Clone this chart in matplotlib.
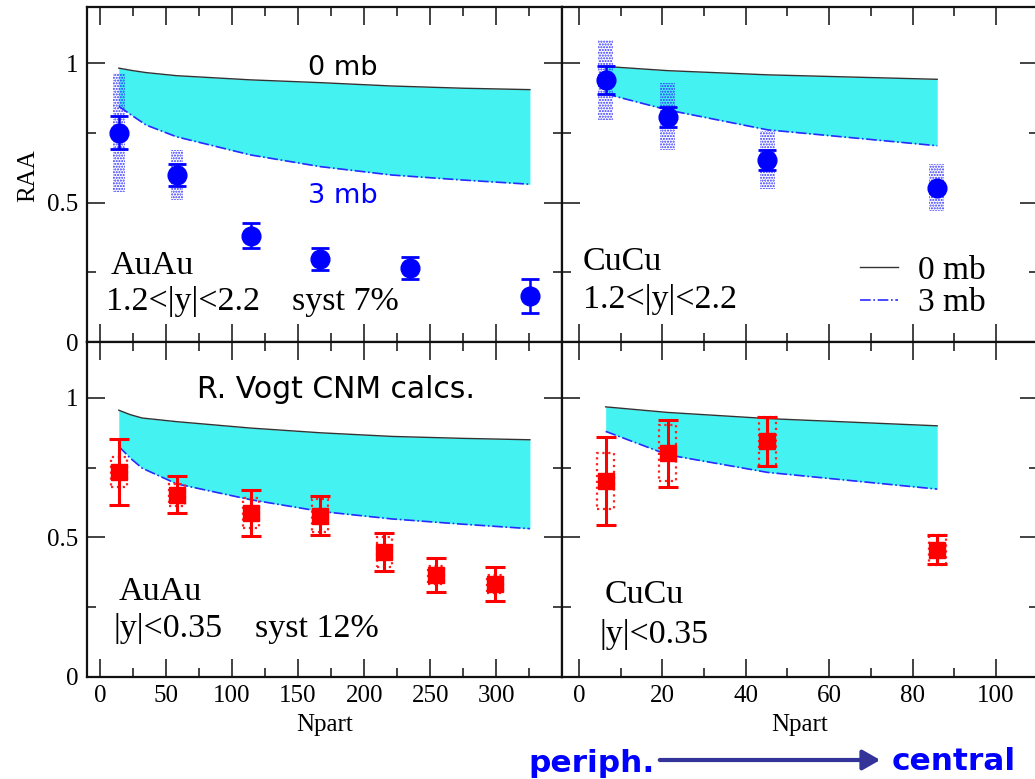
import matplotlib
matplotlib.use("Agg")
import matplotlib.pyplot as plt
from matplotlib.patches import Rectangle, FancyArrowPatch
from matplotlib.ticker import FixedLocator, NullFormatter

# ---- J/psi RAA vs Npart : data ----
# Au+Au, forward rapidity 1.2<|y|<2.2
npart_auau_fwd = [14.3, 58.2, 114.4, 166.4, 234.8, 325.5]
raa_auau_fwd = [0.751, 0.599, 0.382, 0.298, 0.266, 0.164]
stat_auau_fwd = [0.058, 0.039, 0.046, 0.041, 0.040, 0.061]
syst_auau_fwd = [0.213, 0.088, 0.0, 0.0, 0.0, 0.0]

# Cu+Cu, forward rapidity
npart_cucu_fwd = [6.4, 21.3, 45.2, 85.8]
raa_cucu_fwd = [0.940, 0.808, 0.653, 0.553]
stat_cucu_fwd = [0.050, 0.036, 0.036, 0.0]
syst_cucu_fwd = [0.144, 0.120, 0.103, 0.084]

# Au+Au, mid rapidity |y|<0.35
npart_auau_mid = [14.3, 58.2, 114.4, 166.4, 215.4, 254.3, 299.2]
raa_auau_mid = [0.733, 0.653, 0.587, 0.578, 0.447, 0.364, 0.332]
stat_auau_mid = [0.118, 0.067, 0.081, 0.069, 0.068, 0.061, 0.061]
syst_auau_mid = [0.054, 0.040, 0.053, 0.060, 0.054, 0.033, 0.033]

# Cu+Cu, mid rapidity
npart_cucu_mid = [6.4, 21.3, 45.2, 85.9]
raa_cucu_mid = [0.703, 0.802, 0.844, 0.455]
stat_cucu_mid = [0.157, 0.120, 0.087, 0.052]
syst_cucu_mid = [0.100, 0.100, 0.087, 0.053]

# ---- CNM calculations (0 mb / 3 mb absorption) ----
band_auau_fwd_npart = [14.3, 25, 35, 58, 114, 167, 221, 275, 325.5]
band_auau_fwd_0mb = [0.982, 0.973, 0.966, 0.955, 0.940, 0.930, 0.918, 0.910, 0.905]
band_auau_fwd_3mb = [0.845, 0.810, 0.778, 0.736, 0.671, 0.629, 0.599, 0.581, 0.566]

band_cucu_fwd_npart = [6.4, 21.3, 45.2, 85.9]
band_cucu_fwd_0mb = [0.988, 0.973, 0.958, 0.942]
band_cucu_fwd_3mb = [0.890, 0.832, 0.761, 0.704]

band_auau_mid_npart = [14.3, 23, 32, 58, 114, 167, 221, 275, 325.5]
band_auau_mid_0mb = [0.956, 0.940, 0.928, 0.915, 0.892, 0.875, 0.862, 0.855, 0.850]
band_auau_mid_3mb = [0.826, 0.784, 0.748, 0.692, 0.635, 0.593, 0.566, 0.547, 0.531]

band_cucu_mid_npart = [6.4, 21.3, 45.2, 85.9]
band_cucu_mid_0mb = [0.968, 0.948, 0.926, 0.900]
band_cucu_mid_3mb = [0.880, 0.796, 0.733, 0.673]

SERIF = "Liberation Serif"
SANS = "DejaVu Sans"
BAND = "#45f2f2"

fig = plt.figure(figsize=(10.35, 7.79), dpi=100)
x0, xm, x1 = 86.7 / 1035, 562.3 / 1035, 1037.7 / 1035
yt, ym, yb = 1 - 7.3 / 779, 1 - 342.2 / 779, 1 - 676.7 / 779
ax_tl = fig.add_axes([x0, ym, xm - x0, yt - ym])
ax_tr = fig.add_axes([xm, ym, x1 - xm, yt - ym])
ax_bl = fig.add_axes([x0, yb, xm - x0, ym - yb])
ax_br = fig.add_axes([xm, yb, x1 - xm, ym - yb])


def style(ax, au, top, left):
    if au:
        ax.set_xlim(-10, 350)
        ax.xaxis.set_major_locator(FixedLocator([0, 50, 100, 150, 200, 250, 300]))
        ax.xaxis.set_minor_locator(FixedLocator([25, 75, 125, 175, 225, 275, 325]))
    else:
        ax.set_xlim(-4, 110)
        ax.xaxis.set_major_locator(FixedLocator([0, 20, 40, 60, 80, 100]))
        ax.xaxis.set_minor_locator(FixedLocator([10, 30, 50, 70, 90]))
    ax.set_ylim(0, 1.2)
    ax.yaxis.set_major_locator(FixedLocator([0, 0.5, 1.0]))
    ax.yaxis.set_minor_locator(FixedLocator([0.25, 0.75]))
    ax.tick_params(which="both", direction="in", top=True, right=True, width=1.2,
                   color="#222222")
    ax.tick_params(which="major", length=13, labelsize=18, pad=6)
    ax.tick_params(which="minor", length=6.5)
    for lab in ax.get_xticklabels() + ax.get_yticklabels():
        lab.set_fontfamily(SERIF)
    if top:
        ax.xaxis.set_major_formatter(NullFormatter())
    if not left:
        ax.yaxis.set_major_formatter(NullFormatter())
    else:
        ax.set_yticklabels(["0", "0.5", "1"], fontfamily=SERIF)
    for s in ax.spines.values():
        s.set_linewidth(1.6)
        s.set_color("#111111")


def band(ax, npart, up, lo):
    ax.fill_between(npart, lo, up, color=BAND, lw=0, zorder=1)
    ax.plot(npart, up, color="#333333", lw=1.0, zorder=1.5)
    ax.plot(npart, lo, color="#2a2aff", lw=1.2, ls="-.", zorder=1.5)


def blue_points(ax, npart, raa, stat, syst, half):
    for x, y, s in zip(npart, raa, syst):
        if s > 0:
            ax.add_patch(Rectangle((x - half, y - s), 2 * half, 2 * s, facecolor="none",
                                   edgecolor="#3030ff", hatch="......", lw=0, zorder=2))
    ax.errorbar(npart, raa, yerr=stat, fmt="o", color="#0000ff", ms=13.5, capsize=6.8,
                capthick=2.0, elinewidth=1.8, zorder=3)


def red_points(ax, npart, raa, stat, syst, half):
    for x, y, s in zip(npart, raa, syst):
        ax.add_patch(Rectangle((x - half, y - s), 2 * half, 2 * s, facecolor="none",
                               edgecolor="#ff2020", ls=":", lw=1.6, zorder=2))
    ax.errorbar(npart, raa, yerr=stat, fmt="s", color="#ff0000", ms=12, capsize=7.5,
                capthick=2.2, elinewidth=2.2, zorder=3)


# top left: Au+Au forward
band(ax_tl, band_auau_fwd_npart, band_auau_fwd_0mb, band_auau_fwd_3mb)
blue_points(ax_tl, npart_auau_fwd, raa_auau_fwd, stat_auau_fwd, syst_auau_fwd, 4.5)
style(ax_tl, True, True, True)
ax_tl.text(183.6, 0.958, "0 mb", family=SANS, fontsize=19.5, color="black", ha="center", va="baseline")
ax_tl.text(183.6, 0.497, "3 mb", family=SANS, fontsize=19.5, color="#0000ff", ha="center", va="baseline")
ax_tl.text(7.8, 0.246, "AuAu", family=SERIF, fontsize=24.5, va="baseline")
ax_tl.text(4.8, 0.114, "1.2<|y|<2.2", family=SERIF, fontsize=24.5, va="baseline")
ax_tl.text(145.7, 0.114, "syst 7%", family=SERIF, fontsize=24.5, va="baseline")

# top right: Cu+Cu forward
band(ax_tr, band_cucu_fwd_npart, band_cucu_fwd_0mb, band_cucu_fwd_3mb)
blue_points(ax_tr, npart_cucu_fwd, raa_cucu_fwd, stat_cucu_fwd, syst_cucu_fwd, 1.8)
style(ax_tr, False, True, False)
ax_tr.text(0.96, 0.26, "CuCu", family=SERIF, fontsize=24.5, va="baseline")
ax_tr.text(0.96, 0.1235, "1.2<|y|<2.2", family=SERIF, fontsize=24.5, va="baseline")
ax_tr.plot([67.4, 76.5], [0.269, 0.269], color="#333333", lw=1.0)
ax_tr.plot([67.4, 76.5], [0.152, 0.152], color="#2a2aff", lw=1.2, ls="-.")
ax_tr.text(81.3, 0.228, "0 mb", family=SERIF, fontsize=24, va="baseline")
ax_tr.text(81.3, 0.111, "3 mb", family=SERIF, fontsize=24, va="baseline")

# bottom left: Au+Au mid rapidity
band(ax_bl, band_auau_mid_npart, band_auau_mid_0mb, band_auau_mid_3mb)
red_points(ax_bl, npart_auau_mid, raa_auau_mid, stat_auau_mid, syst_auau_mid, 6.0)
style(ax_bl, True, False, True)
ax_bl.text(178.7, 1.0, "R. Vogt CNM calcs.", family=SANS, fontsize=21.5, ha="center", va="baseline")
ax_bl.text(14.3, 0.2755, "AuAu", family=SERIF, fontsize=24.5, va="baseline")
ax_bl.text(10.0, 0.1437, "|y|<0.35", family=SERIF, fontsize=24.5, va="baseline")
ax_bl.text(117.7, 0.1437, "syst 12%", family=SERIF, fontsize=24.5, va="baseline")

# bottom right: Cu+Cu mid rapidity
band(ax_br, band_cucu_mid_npart, band_cucu_mid_0mb, band_cucu_mid_3mb)
red_points(ax_br, npart_cucu_mid, raa_cucu_mid, stat_cucu_mid, syst_cucu_mid, 2.0)
style(ax_br, False, False, False)
ax_br.text(6.2, 0.2636, "CuCu", family=SERIF, fontsize=24.5, va="baseline")
ax_br.text(5.0, 0.12, "|y|<0.35", family=SERIF, fontsize=24.5, va="baseline")

# axis titles
fig.text(28 / 1035, 1 - 176 / 779, "RAA", family=SERIF, fontsize=18, rotation=90,
         ha="center", va="center")
fig.text(324.5 / 1035, 1 - 725 / 779, "Npart", family=SERIF, fontsize=18, ha="center", va="center")
fig.text(800 / 1035, 1 - 725 / 779, "Npart", family=SERIF, fontsize=18, ha="center", va="center")

# centrality direction
fig.text(528 / 1035, 1 - 772 / 779, "periph.", family=SANS, fontweight="bold",
         fontsize=22.5, color="#0000ff", va="baseline")
fig.text(892 / 1035, 1 - 770 / 779, "central", family=SANS, fontweight="bold",
         fontsize=22.5, color="#0000ff", va="baseline")
fig.add_artist(FancyArrowPatch((657 / 1035, 1 - 760 / 779), (883 / 1035, 1 - 760 / 779),
                               transform=fig.transFigure, arrowstyle="-|>,head_length=7,head_width=4",
                               color="#333399", lw=3, mutation_scale=1.5))

fig.savefig("out.png", dpi=100)
